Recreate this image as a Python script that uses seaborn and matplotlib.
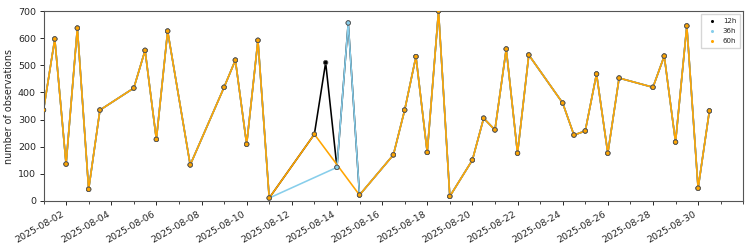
import matplotlib
matplotlib.use("Agg")
import matplotlib.pyplot as plt
import matplotlib.dates as mdates
from matplotlib.ticker import MultipleLocator
import numpy as np
import pandas as pd
import seaborn as sns

times = [
    "2025-08-01 00:00", "2025-08-01 12:00", "2025-08-02 00:00", "2025-08-02 12:00",
    "2025-08-03 00:00", "2025-08-03 12:00", "2025-08-05 00:00", "2025-08-05 12:00",
    "2025-08-06 00:00", "2025-08-06 12:00", "2025-08-07 12:00", "2025-08-09 00:00",
    "2025-08-09 12:00", "2025-08-10 00:00", "2025-08-10 12:00", "2025-08-11 00:00",
    "2025-08-13 00:00", "2025-08-13 12:00", "2025-08-14 00:00", "2025-08-14 12:00",
    "2025-08-15 00:00", "2025-08-16 12:00", "2025-08-17 00:00", "2025-08-17 12:00",
    "2025-08-18 00:00", "2025-08-18 12:00", "2025-08-19 00:00", "2025-08-20 00:00",
    "2025-08-20 12:00", "2025-08-21 00:00", "2025-08-21 12:00", "2025-08-22 00:00",
    "2025-08-22 12:00", "2025-08-24 00:00", "2025-08-24 12:00", "2025-08-25 00:00",
    "2025-08-25 12:00", "2025-08-26 00:00", "2025-08-26 12:00", "2025-08-28 00:00",
    "2025-08-28 12:00", "2025-08-29 00:00", "2025-08-29 12:00", "2025-08-30 00:00",
    "2025-08-30 12:00",
]

obs_12h = [335, 597, 136, 637, 43, 335, 416, 555, 227, 626, 133, 419, 519, 209, 592, 11,
           246, 510, 124, 656, 22, 170, 335, 532, 179, 700, 17, 151, 305, 262, 560, 176,
           538, 361, 243, 258, 468, 176, 453, 419, 534, 217, 645, 47, 332]
obs_36h = [335, 597, 136, 637, 43, 335, 416, 555, 227, 626, 133, 419, 519, 209, 592, 11,
           None, None, 124, 656, 22, 170, 335, 532, 179, 700, 17, 151, 305, 262, 560, 176,
           538, 361, 243, 258, 468, 176, 453, 419, 534, 217, 645, 47, 332]
obs_60h = [335, 597, 136, 637, 43, 335, 416, 555, 227, 626, 133, 419, 519, 209, 592, 11,
           246, None, None, None, 22, 170, 335, 532, 179, 700, 17, 151, 305, 262, 560, 176,
           538, 361, 243, 258, 468, 176, 453, 419, 534, 217, 645, 47, 332]

leads = ["12h", "36h", "60h"]
colors = ["black", "skyblue", "orange"]

frames = []
for lead, vals in zip(leads, [obs_12h, obs_36h, obs_60h]):
    frames.append(pd.DataFrame({"time": pd.to_datetime(times), "n": vals, "lead": lead}))
df = pd.concat(frames).dropna().reset_index(drop=True)
df["n"] = df["n"].astype(float)

sns.set_style("ticks")
plt.rcParams["font.family"] = ["DejaVu Sans"]
fig, ax = plt.subplots(figsize=(7.5, 2.5), dpi=100)
pal = dict(zip(leads, colors))

for lead in leads:
    sub = df[df["lead"] == lead]
    sns.lineplot(data=sub, x="time", y="n", color=pal[lead], lw=1.15, ax=ax,
                 sort=True, estimator=None, legend=False)
sns.scatterplot(data=df, x="time", y="n", hue="lead", palette=pal, s=10,
                edgecolor="#555555", linewidth=0.6, ax=ax, zorder=3)

handles, labels = ax.get_legend_handles_labels()
for h in handles:
    try:
        h.set_markeredgecolor("none")
    except Exception:
        try:
            h.set_edgecolor("none")
        except Exception:
            pass
leg = ax.legend(handles, labels, loc="upper right", fontsize=5, markerscale=0.7,
                frameon=True, handletextpad=0.6, borderpad=0.5, labelspacing=0.6,
                fancybox=False, edgecolor="#cccccc")

ax.set_ylim(0, 700)
ax.yaxis.set_major_locator(MultipleLocator(100))
ax.set_xlim(pd.Timestamp("2025-08-01"), pd.Timestamp("2025-09-01"))
ax.xaxis.set_major_locator(mdates.DayLocator(bymonthday=range(2, 31, 2)))
ax.xaxis.set_minor_locator(mdates.DayLocator())
ax.xaxis.set_major_formatter(mdates.DateFormatter("%Y-%m-%d"))
ax.set_xlabel("")
ax.set_ylabel("number of observations", fontsize=6.9, labelpad=2.5)
ax.tick_params(axis="both", which="major", labelsize=6.8, length=3.2, pad=2.2,
               width=0.7)
ax.tick_params(axis="x", which="major", pad=2.8)
ax.tick_params(axis="x", which="minor", length=1.8, width=0.6)
for lab in ax.get_xticklabels():
    lab.set_rotation(30)
    lab.set_ha("right")
for sp in ax.spines.values():
    sp.set_color("#555555")
    sp.set_linewidth(0.8)

fig.subplots_adjust(left=0.058, right=0.991, top=0.956, bottom=0.196)
fig.savefig("out.png", dpi=100)
